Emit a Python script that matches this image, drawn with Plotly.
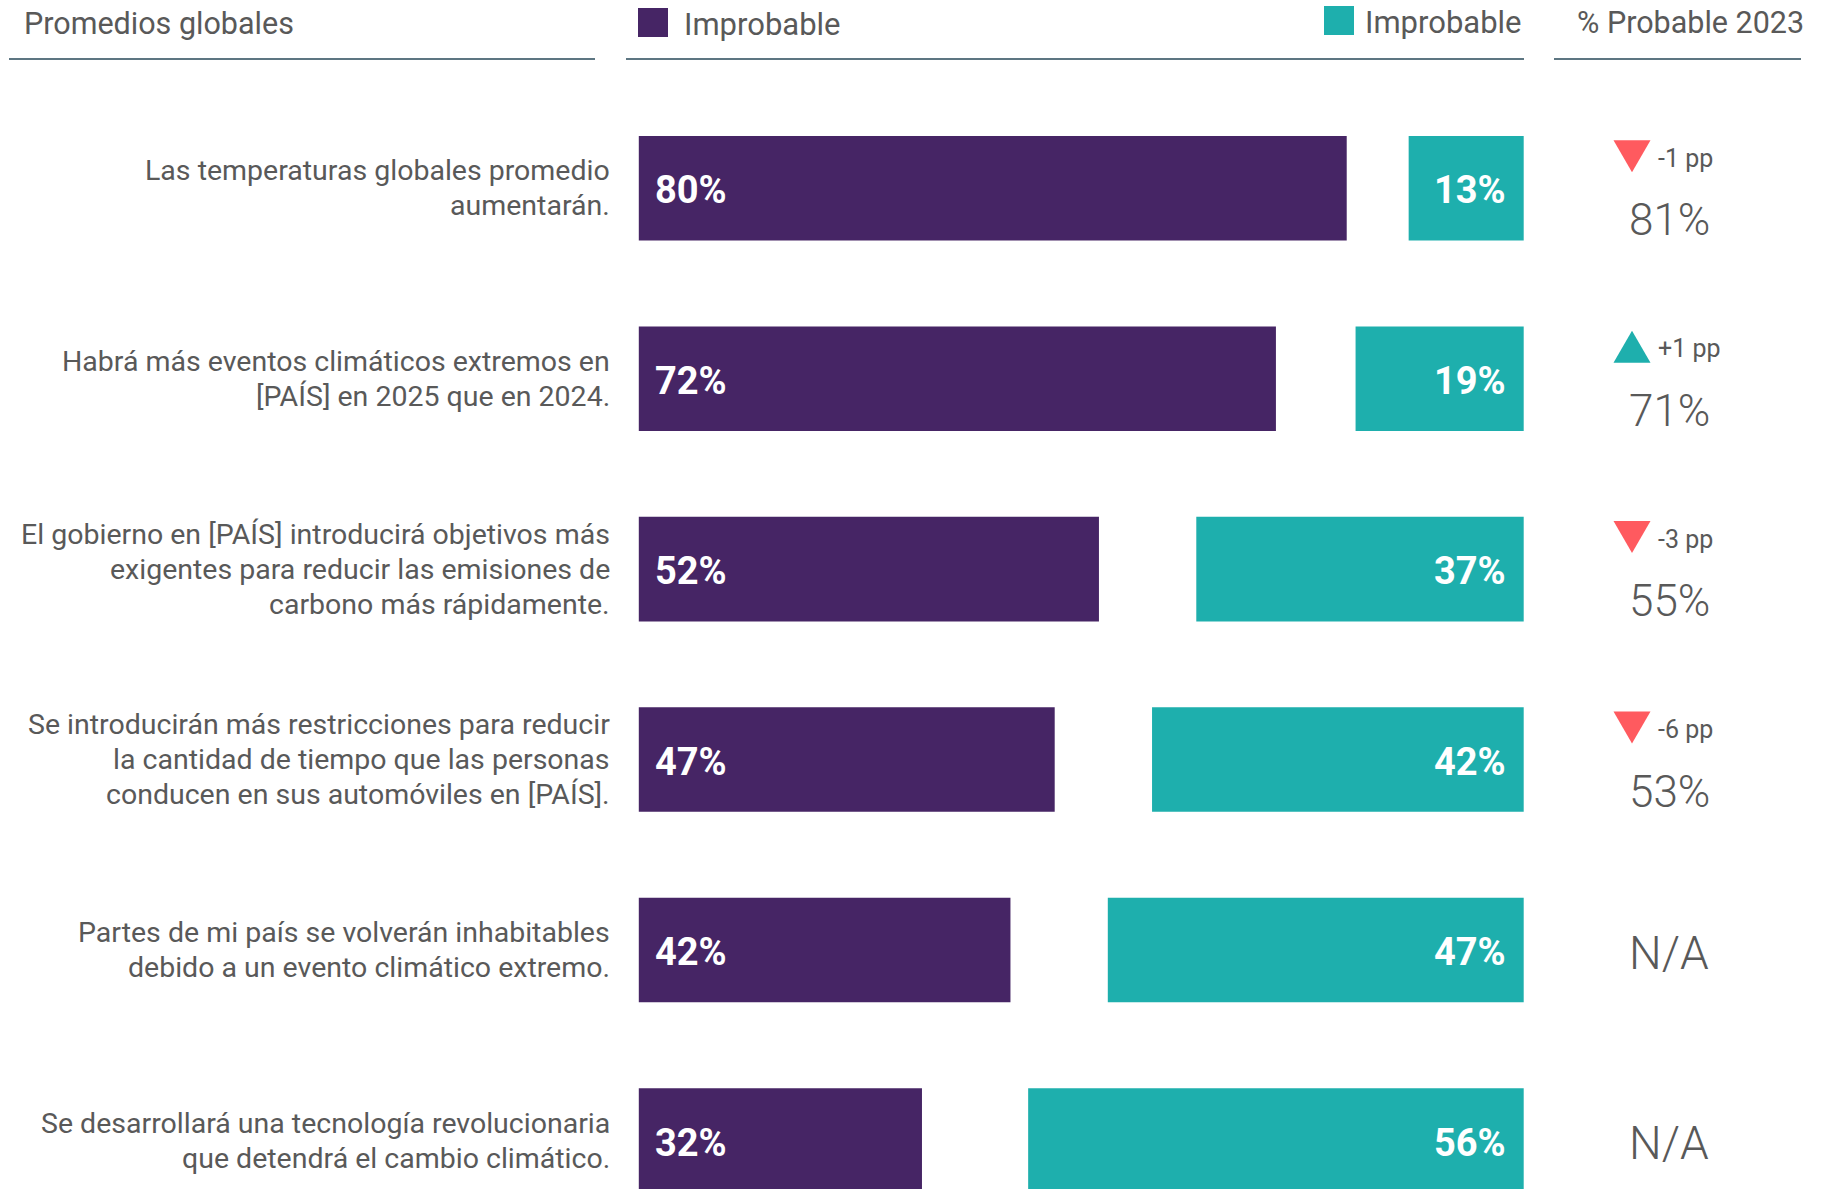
import plotly.graph_objects as go

# --- data -------------------------------------------------------------
statements = [
    "Las temperaturas globales promedio<br>aumentarán.",
    "Habrá más eventos climáticos extremos en<br>[PAÍS] en 2025 que en 2024.",
    "El gobierno en [PAÍS] introducirá objetivos más<br>exigentes para reducir las emisiones de<br>carbono más rápidamente.",
    "Se introducirán más restricciones para reducir<br>la cantidad de tiempo que las personas<br>conducen en sus automóviles en [PAÍS].",
    "Partes de mi país se volverán inhabitables<br>debido a un evento climático extremo.",
    "Se desarrollará una tecnología revolucionaria<br>que detendrá el cambio climático.",
]
likely_share = [80, 72, 52, 47, 42, 32]       # purple bars
unlikely_share = [13, 19, 37, 42, 47, 56]     # teal bars
likely_2023 = [81, 71, 55, 53, None, None]
change_pp = [-1, 1, -3, -6, None, None]

header_left = "Promedios globales"
legend_purple = "Improbable"
legend_teal = "Improbable"
header_right = "% Probable 2023"

# --- styling ----------------------------------------------------------
PURPLE = "#462565"
TEAL = "#1eafad"
RED = "#ff5a5f"
GREY = "#595959"
RULE = "#5d7682"
FONT = "Roboto"
W, H = 1821, 1189
BAR_W = 0.549
LINE_PX = 35          # line pitch of the statement text

rows = list(range(len(statements)))

fig = go.Figure()

fig.add_trace(go.Bar(
    y=rows, x=likely_share, base=[0] * len(rows), orientation="h",
    marker=dict(color=PURPLE, line=dict(width=0)), width=BAR_W,
    hoverinfo="skip", showlegend=False,
))
fig.add_trace(go.Bar(
    y=rows, x=unlikely_share, base=[100 - v for v in unlikely_share],
    orientation="h",
    marker=dict(color=TEAL, line=dict(width=0)), width=BAR_W,
    hoverinfo="skip", showlegend=False,
))

annotations = []
shapes = []

for i, (txt, p, t) in enumerate(zip(statements, likely_share, unlikely_share)):
    # statement text, right-aligned against the bars, one annotation per line
    lines = txt.split("<br>")
    n = len(lines)
    for k, line in enumerate(lines):
        annotations.append(dict(
            x=612 / W, xref="paper", y=i, yref="y", text=line,
            yshift=-(k - (n - 1) / 2) * LINE_PX,
            xanchor="right", yanchor="middle", align="right", showarrow=False,
            font=dict(family=FONT, size=28.5, color=GREY),
        ))
    # value labels inside the bars
    annotations.append(dict(
        x=0, xref="x", y=i, yref="y", text=f"{p}%", xanchor="left",
        xshift=14, yshift=-2, yanchor="middle", showarrow=False,
        font=dict(family=FONT, size=38, color="white", weight="bold"),
    ))
    annotations.append(dict(
        x=100, xref="x", y=i, yref="y", text=f"{t}%", xanchor="right",
        xshift=-16, yshift=-2, yanchor="middle", showarrow=False,
        font=dict(family=FONT, size=38, color="white", weight="bold"),
    ))

# right-hand column: 2023 value and change indicator
col_x = 1669 / W
tri_cx = 1632 / W
tri_hw = 18.5 / W
tri_hh = 16 / 190.46
tri_dy = 32 / 190.46
for i, (v, d) in enumerate(zip(likely_2023, change_pp)):
    if v is None:
        annotations.append(dict(
            x=col_x, xref="paper", y=i + 0.015, yref="y", text="N/A",
            xanchor="center", yanchor="middle", showarrow=False,
            font=dict(family=FONT, size=46, color=GREY, weight=300),
        ))
        continue
    annotations.append(dict(
        x=col_x, xref="paper", y=i + tri_dy, yref="y", text=f"{v}%",
        xanchor="center", yanchor="middle", showarrow=False,
        font=dict(family=FONT, size=44, color=GREY, weight=300),
    ))
    yc = i - tri_dy
    if d < 0:
        path = (f"M {tri_cx - tri_hw},{yc - tri_hh} L {tri_cx + tri_hw},{yc - tri_hh} "
                f"L {tri_cx},{yc + tri_hh} Z")
        col = RED
        label = f"-{abs(d)} pp"
    else:
        path = (f"M {tri_cx - tri_hw},{yc + tri_hh} L {tri_cx + tri_hw},{yc + tri_hh} "
                f"L {tri_cx},{yc - tri_hh} Z")
        col = TEAL
        label = f"+{d} pp"
    shapes.append(dict(type="path", xref="paper", yref="y", path=path,
                       fillcolor=col, line=dict(width=0)))
    annotations.append(dict(
        x=1656 / W, xref="paper", y=yc + 0.01, yref="y", text=label,
        xanchor="left", yanchor="middle", showarrow=False,
        font=dict(family=FONT, size=25, color=GREY),
    ))

# header row
annotations += [
    dict(x=22 / W, xref="paper", y=1 - 24 / H, yref="paper", text=header_left,
         xanchor="left", yanchor="middle", showarrow=False,
         font=dict(family=FONT, size=30.5, color=GREY)),
    dict(x=682 / W, xref="paper", y=1 - 25 / H, yref="paper", text=legend_purple,
         xanchor="left", yanchor="middle", showarrow=False,
         font=dict(family=FONT, size=31, color=GREY)),
    dict(x=1524 / W, xref="paper", y=1 - 22 / H, yref="paper", text=legend_teal,
         xanchor="right", yanchor="middle", showarrow=False,
         font=dict(family=FONT, size=31, color=GREY)),
    dict(x=1806 / W, xref="paper", y=1 - 23 / H, yref="paper", text=header_right,
         xanchor="right", yanchor="middle", showarrow=False,
         font=dict(family=FONT, size=30.5, color=GREY)),
]
shapes += [
    dict(type="rect", xref="paper", yref="paper", x0=638 / W, x1=668 / W,
         y0=1 - 37 / H, y1=1 - 8 / H, fillcolor=PURPLE, line=dict(width=0)),
    dict(type="rect", xref="paper", yref="paper", x0=1324 / W, x1=1354 / W,
         y0=1 - 35 / H, y1=1 - 6 / H, fillcolor=TEAL, line=dict(width=0)),
]
for x0, x1 in [(9, 595), (626, 1524), (1554, 1801)]:
    shapes.append(dict(type="line", xref="paper", yref="paper",
                       x0=x0 / W, x1=x1 / W, y0=1 - 59 / H, y1=1 - 59 / H,
                       line=dict(color=RULE, width=2)))

px_per_unit = (1523.7 - 638.8) / 100
row_px = 190.46
row0_px = 188.2

fig.update_layout(
    width=W, height=H,
    margin=dict(l=0, r=0, t=0, b=0),
    paper_bgcolor="white", plot_bgcolor="white",
    barmode="overlay",
    xaxis=dict(range=[-638.8 / px_per_unit, (W - 638.8) / px_per_unit],
               visible=False, fixedrange=True),
    yaxis=dict(range=[(H - row0_px) / row_px, -row0_px / row_px],
               visible=False, fixedrange=True),
    annotations=annotations,
    shapes=shapes,
    showlegend=False,
)

fig.write_html("out.html", config={"displayModeBar": False})
